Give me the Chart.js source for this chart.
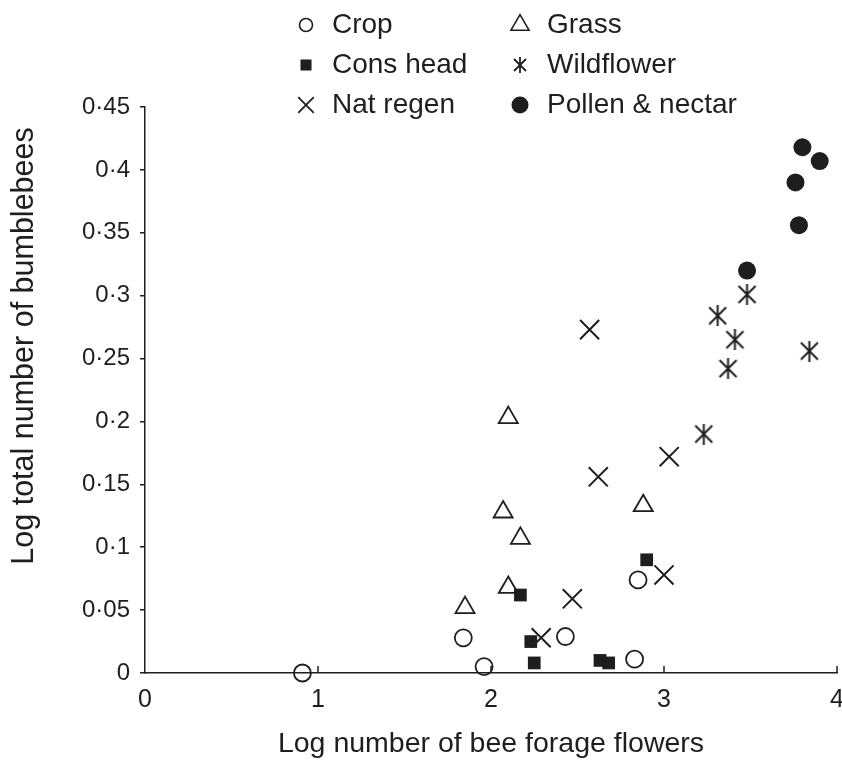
<!DOCTYPE html>
<html>
<head>
<meta charset="utf-8">
<script src="https://cdn.jsdelivr.net/npm/chart.js@4.4.0/dist/chart.umd.min.js"></script>
<style>
  html, body { margin: 0; padding: 0; background: #fff; overflow: hidden; }
  #wrap { width: 842px; height: 761px; position: relative; }
</style>
</head>
<body>
<div id="wrap"><canvas id="beeChart"></canvas></div>
<script>
// values
var seriesNames = ['Crop', 'Cons head', 'Nat regen', 'Grass', 'Wildflower', 'Pollen & nectar'];

var cropX = [0.91, 1.84, 1.96, 2.43, 2.85, 2.83];
var cropY = [0.0, 0.028, 0.005, 0.029, 0.074, 0.011];

var consX = [2.17, 2.23, 2.25, 2.63, 2.68, 2.90];
var consY = [0.062, 0.025, 0.008, 0.010, 0.008, 0.090];

var natX = [2.57, 2.62, 3.03, 2.47, 2.29, 3.00];
var natY = [0.273, 0.156, 0.172, 0.059, 0.028, 0.078];

var grassX = [2.10, 2.07, 2.17, 2.10, 1.85, 2.88];
var grassY = [0.203, 0.128, 0.107, 0.068, 0.052, 0.133];

var wildX = [3.23, 3.37, 3.41, 3.31, 3.48, 3.84];
var wildY = [0.190, 0.242, 0.265, 0.284, 0.301, 0.256];

var pollenX = [3.80, 3.90, 3.76, 3.78, 3.48];
var pollenY = [0.418, 0.407, 0.390, 0.356, 0.320];

var xTicks = [0, 1, 2, 3, 4];
var xTickLabels = ['0', '1', '2', '3', '4'];
var yTicks = [0, 0.05, 0.1, 0.15, 0.2, 0.25, 0.3, 0.35, 0.4, 0.45];
var yTickLabels = ['0', '0·05', '0·1', '0·15', '0·2', '0·25', '0·3', '0·35', '0·4', '0·45'];

var xTitle = 'Log number of bee forage flowers';
var yTitle = 'Log total number of bumblebees';

var ink = '#1e1e1e';
var fontFamily = "'Liberation Sans', Arial, sans-serif";
Chart.defaults.font.family = fontFamily;
Chart.defaults.color = ink;

function pts(xs, ys) {
    return xs.map(function(x, i) { return {x: x, y: ys[i]}; });
}

// six-armed asterisk used for the wildflower marks
function makeAsterisk(size, lw) {
    var c = document.createElement('canvas');
    c.width = size; c.height = size;
    var g = c.getContext('2d');
    g.strokeStyle = ink;
    g.lineWidth = lw;
    var m = 2;
    g.beginPath();
    g.moveTo(size / 2, 0); g.lineTo(size / 2, size);
    g.moveTo(m, m); g.lineTo(size - m, size - m);
    g.moveTo(size - m, m); g.lineTo(m, size - m);
    g.stroke();
    return c;
}
var asterisk = makeAsterisk(21, 2);
var asteriskSmall = makeAsterisk(16, 1.8);

var datasets = [
    {label: seriesNames[0], data: pts(cropX, cropY), pointStyle: 'circle', pointRadius: 8.5,
     pointBorderWidth: 1.8, pointBorderColor: ink, pointBackgroundColor: 'rgba(0,0,0,0)'},
    {label: seriesNames[1], data: pts(consX, consY), pointStyle: 'rect', pointRadius: 9,
     pointBorderWidth: 0, pointBorderColor: ink, pointBackgroundColor: ink},
    {label: seriesNames[2], data: pts(natX, natY), pointStyle: 'crossRot', pointRadius: 13.5,
     pointBorderWidth: 2, pointBorderColor: ink, pointBackgroundColor: ink},
    {label: seriesNames[3], data: pts(grassX, grassY), pointStyle: 'triangle', pointRadius: 11,
     pointBorderWidth: 1.8, pointBorderColor: ink, pointBackgroundColor: 'rgba(0,0,0,0)'},
    {label: seriesNames[4], data: pts(wildX, wildY), pointStyle: asterisk, pointRadius: 10,
     pointBorderWidth: 0, pointBorderColor: ink, pointBackgroundColor: ink},
    {label: seriesNames[5], data: pts(pollenX, pollenY), pointStyle: 'circle', pointRadius: 9,
     pointBorderWidth: 0, pointBorderColor: ink, pointBackgroundColor: ink}
];
datasets.forEach(function(d) { d.showLine = false; d.clip = false; });

// legend in two columns, y title sitting a bit above the axis middle, inward x ticks
var legendMarks = [
    {style: 'circle', r: 6.5, fill: 'rgba(0,0,0,0)', bw: 1.6},
    {style: 'rect', r: 7.8, fill: ink, bw: 0},
    {style: 'crossRot', r: 11, fill: ink, bw: 1.8},
    {style: 'triangle', r: 10.4, fill: 'rgba(0,0,0,0)', bw: 1.6},
    {style: asteriskSmall, r: 8, fill: ink, bw: 0},
    {style: 'circle', r: 8.5, fill: ink, bw: 0}
];

var extras = {
    id: 'extras',
    beforeDatasetsDraw: function(chart) {
        var ctx = chart.ctx;
        var xs = chart.scales.x;
        var bottom = chart.chartArea.bottom;
        ctx.save();
        ctx.strokeStyle = ink;
        ctx.lineWidth = 1.5;
        xTicks.forEach(function(v) {
            if (v === 0) return;
            var px = xs.getPixelForValue(v);
            ctx.beginPath();
            ctx.moveTo(px, bottom);
            ctx.lineTo(px, bottom - 7);
            ctx.stroke();
        });
        ctx.restore();
    },
    afterDraw: function(chart) {
        var ctx = chart.ctx;
        ctx.save();
        ctx.font = '28px ' + fontFamily;
        ctx.textBaseline = 'middle';
        ctx.textAlign = 'left';
        seriesNames.forEach(function(name, i) {
            var col = Math.floor(i / 3), row = i % 3;
            var mx = col === 0 ? 306 : 520;
            var tx = col === 0 ? 332 : 547;
            var y = 25 + row * 40;
            var m = legendMarks[i];
            ctx.strokeStyle = ink;
            ctx.fillStyle = m.fill;
            ctx.lineWidth = m.bw;
            Chart.helpers.drawPoint(ctx, {pointStyle: m.style, radius: m.r, borderWidth: m.bw, rotation: 0}, mx, y);
            ctx.fillStyle = ink;
            ctx.fillText(name, tx, y);
        });

        // y axis title
        var ys = chart.scales.y;
        var midY = ys.getPixelForValue(0.26);
        ctx.translate(25, midY);
        ctx.rotate(-Math.PI / 2);
        ctx.font = '30.5px ' + fontFamily;
        ctx.textAlign = 'center';
        ctx.fillStyle = ink;
        ctx.fillText(yTitle, 0, 0);
        ctx.restore();
    }
};

var ctxBee = document.getElementById('beeChart').getContext('2d');
window.beeChart = new Chart(ctxBee, {
    type: 'scatter',
    data: {datasets: datasets},
    options: {
        responsive: true,
        maintainAspectRatio: false,
        animation: false,
        events: [],
        layout: {autoPadding: false, padding: {top: 107, right: 5, left: 0, bottom: 0}},
        plugins: {legend: {display: false}, tooltip: {enabled: false}},
        scales: {
            x: {
                type: 'linear', min: 0, max: 4,
                afterBuildTicks: function(scale) {
                    scale.ticks = xTicks.map(function(v) { return {value: v}; });
                },
                afterFit: function(scale) {
                    scale.height = 88;
                    scale.paddingRight = 0;
                    scale.paddingLeft = 0;
                },
                ticks: {
                    font: {size: 25}, padding: 8, color: ink, maxRotation: 0,
                    callback: function(v, i) { return xTickLabels[i]; }
                },
                // invisible outer tick marks only push the labels down
                grid: {display: true, drawOnChartArea: false, drawTicks: true, tickLength: 4, color: 'rgba(0,0,0,0)'},
                border: {display: true, color: ink, width: 1.5},
                title: {display: true, text: xTitle, font: {size: 28.5}, color: ink, padding: {top: 0, bottom: 0}}
            },
            y: {
                type: 'linear', min: 0, max: 0.45,
                afterBuildTicks: function(scale) {
                    scale.ticks = yTicks.map(function(v) { return {value: v}; });
                },
                afterFit: function(scale) {
                    scale.width = 145;
                    scale.paddingTop = 0;
                    scale.paddingBottom = 0;
                },
                ticks: {
                    font: {size: 24}, padding: 10, color: ink,
                    callback: function(v, i) { return yTickLabels[i]; }
                },
                grid: {drawOnChartArea: false, drawTicks: true, tickLength: 5, color: ink, lineWidth: 1.5},
                border: {display: true, color: ink, width: 1.5},
                title: {display: false}
            }
        }
    },
    plugins: [extras]
});
</script>
</body>
</html>
